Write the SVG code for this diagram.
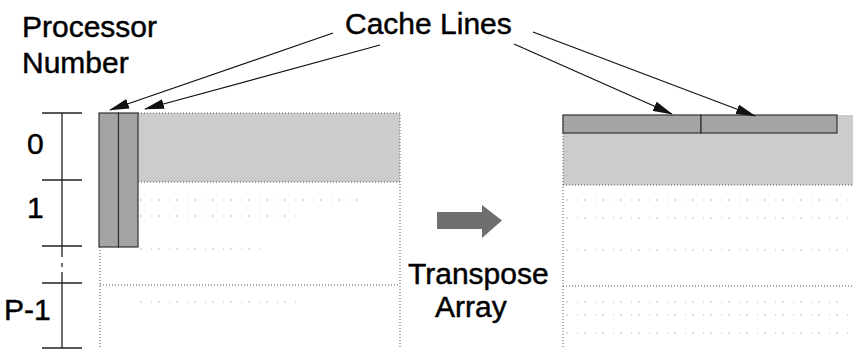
<svg xmlns="http://www.w3.org/2000/svg" width="854" height="349" viewBox="0 0 854 349">
  <style>
    .label { font-family: "Liberation Sans", Arial, Helvetica, sans-serif; font-size: 30px; fill: #000; stroke: #000; stroke-width: 0.45; }
    .axis { stroke: #222; stroke-width: 1.3; fill: none; }
    .grid { stroke: #555; stroke-width: 1; stroke-dasharray: 1 2; fill: none; }
    .faint { stroke: #bbb; stroke-width: 1; stroke-dasharray: 2 9 1 6; fill: none; }
    .block { fill: #cccccc; }
    .line-cell { fill: #a4a4a4; stroke: #333; stroke-width: 1.2; }
    .pointer { stroke: #111; stroke-width: 1.2; fill: none; marker-end: url(#head); }
  </style>
  <defs>
    <marker id="head" viewBox="0 0 20 10" refX="19" refY="5" markerWidth="20" markerHeight="10" markerUnits="userSpaceOnUse" orient="auto">
      <path d="M0,0 L20,5 L0,10 Z" fill="#111"/>
    </marker>
  </defs>

  <rect width="854" height="349" fill="#fff"/>

  <!-- headings -->
  <g id="title-processor">
    <text class="label" x="22" y="37">Processor</text>
    <text class="label" x="22" y="73">Number</text>
  </g>
  <g id="title-cache">
    <text class="label" x="345" y="34">Cache Lines</text>
  </g>

  <!-- processor axis -->
  <g id="axis">
    <path class="axis" d="M62,113 V257 M62,263 V267 M62,272 V348"/>
    <path class="axis" d="M42,113 H82 M42,180 H82 M42,246 H82 M42,283 H82 M42,348 H82"/>
    <text class="label" x="27" y="154">0</text>
    <text class="label" x="27" y="218">1</text>
    <text class="label" x="4" y="320">P-1</text>
  </g>

  <!-- original array -->
  <g id="array-before">
    <rect class="block" x="138" y="113" width="262" height="69"/>
    <path class="grid" d="M138,113 H400 V348 M138,182 H400 M100,247 V348 M100,285 H400"/>
    <path class="faint" d="M140,200 H360 M140,216 H300 M140,249 H260 M140,302 H300"/>
    <rect class="line-cell" x="99" y="113" width="19.5" height="134"/>
    <rect class="line-cell" x="118.5" y="113" width="19.5" height="134"/>
  </g>

  <!-- transpose step -->
  <g id="transpose">
    <path d="M437,212 H482 V205 L502,220.5 L482,238 V229 H437 Z" fill="#6f6f6f"/>
    <text class="label" x="408" y="284">Transpose</text>
    <text class="label" x="435" y="317">Array</text>
  </g>

  <!-- transposed array -->
  <g id="array-after">
    <rect class="block" x="563" y="115" width="290" height="70"/>
    <path class="grid" d="M563,185 H853 M563,115 V348 M563,286 H853"/>
    <path class="faint" d="M566,200 H850 M566,218 H850 M566,250 H850 M566,302 H840 M566,315 H850 M566,333 H850"/>
    <rect class="line-cell" x="563" y="115" width="138" height="18"/>
    <rect class="line-cell" x="701" y="115" width="136" height="18"/>
  </g>

  <!-- pointers from the heading to the cache lines -->
  <g id="connectors">
    <path class="pointer" d="M333,33 L110,110"/>
    <path class="pointer" d="M380,45 L145,109"/>
    <path class="pointer" d="M514,44 L672,114"/>
    <path class="pointer" d="M533,32 L755,116"/>
  </g>
</svg>
